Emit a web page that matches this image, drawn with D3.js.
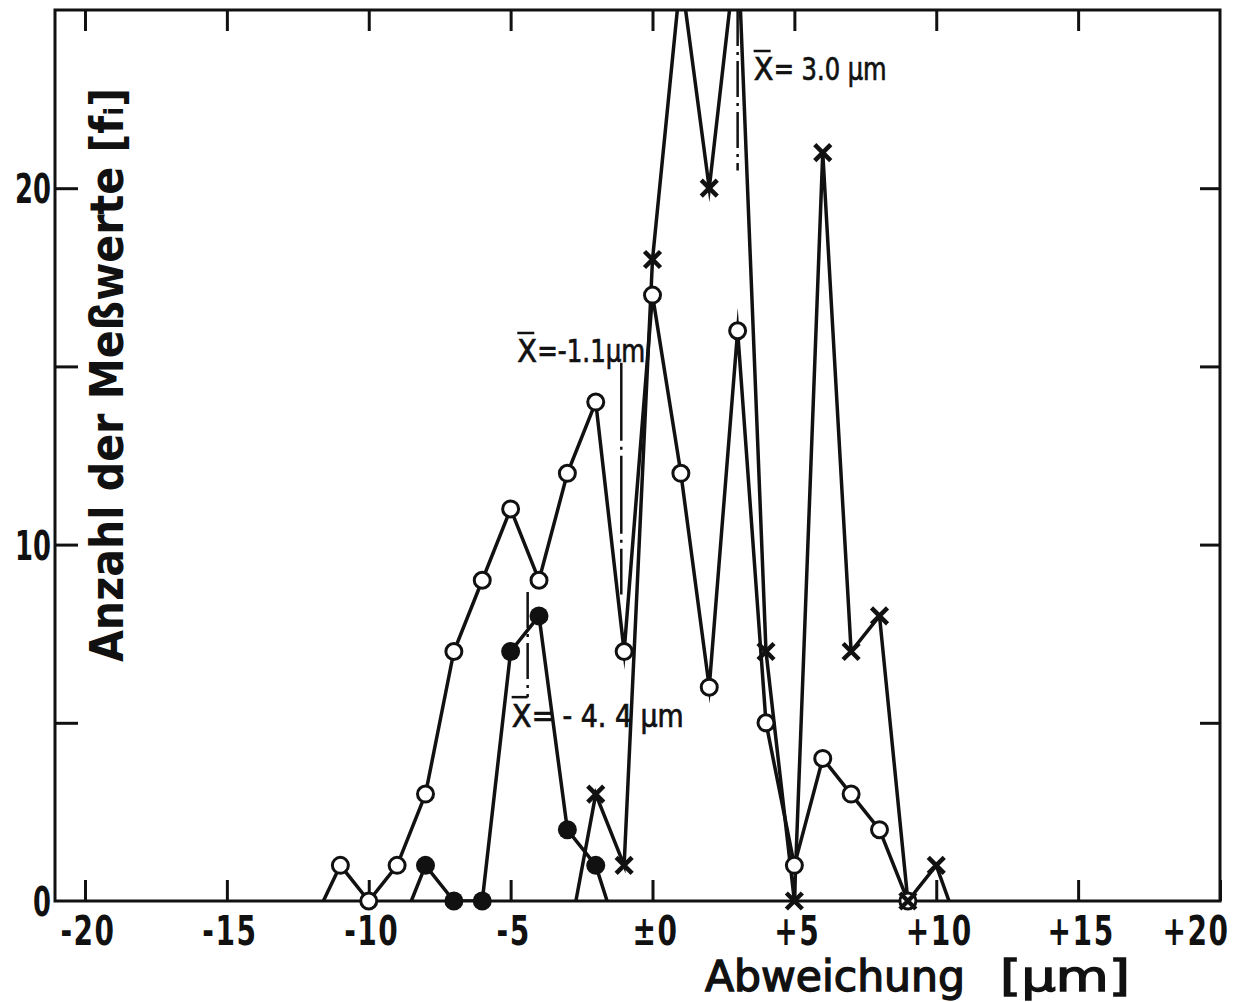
<!DOCTYPE html>
<html lang="de">
<head>
<meta charset="UTF-8">
<title>Abweichung - Anzahl der Meßwerte</title>
<script src="https://d3js.org/d3.v7.min.js"></script>
<style>
    body { margin: 0; padding: 0; background: #fff; }
    svg { display: block; }
    .tick-label {
        font-family: "DejaVu Sans Condensed", "DejaVu Sans", sans-serif;
        font-weight: bold;
        font-size: 41px;
        fill: #111;
    }
    .axis-title {
        font-family: "DejaVu Sans Condensed", "DejaVu Sans", sans-serif;
        font-weight: bold;
        fill: #111;
    }
    .x-title {
        font-family: "DejaVu Sans Condensed", "DejaVu Sans", sans-serif;
        font-size: 43px;
        fill: #111;
        stroke: #111;
        stroke-width: 1.3;
    }
    .mean-label {
        font-family: "DejaVu Sans Condensed", "DejaVu Sans", sans-serif;
        font-size: 32px;
        fill: #111;
        stroke: #111;
        stroke-width: 0.7;
    }
</style>
</head>
<body>
<svg id="chart"></svg>
<script>
    // values (class = deviation in µm, value = count)
    const openX = [-11, -10, -9, -8, -7, -6, -5, -4, -3, -2, -1, 0, 1, 2, 3, 4, 5, 6, 7, 8, 9];
    const openY = [1, 0, 1, 3, 7, 9, 11, 9, 12, 14, 7, 17, 12, 6, 16, 5, 1, 4, 3, 2, 0];
    const openEnds = [-11.6, null];

    const filledX = [-8, -7, -6, -5, -4, -3, -2];
    const filledY = [1, 0, 0, 7, 8, 2, 1];
    const filledEnds = [-8.5, -1.6];

    const crossX = [-2, -1, 0, 1, 2, 3, 4, 5, 6, 7, 8, 9, 10];
    const crossY = [3, 1, 18, 26, 20, 27, 7, 0, 21, 7, 8, 0, 1];
    const crossEnds = [-2.7, 10.45];

    const xTicks = [-20, -15, -10, -5, 0, 5, 10, 15, 20];
    const xTickLabels = ["-20", "-15", "-10", "-5", "±0", "+5", "+10", "+15", "+20"];
    const yTicks = [0, 5, 10, 15, 20, 25];
    const yTickLabels = ["0", "", "10", "", "20", ""];

    const meanValues = [3.0, -1.1, -4.4];
    const meanLabels = ["= 3.0 µm", "=-1.1µm", "= - 4. 4  µm"];
    const meanSpans = [[20.5, 25], [8.6, 15.1], [5.72, 8.67]];

    const width = 1235, height = 1002;
    const frame = { left: 55, top: 10, right: 1220, bottom: 901 };
    // the scan's lettering is a narrow DIN face
    const squeezeX = 0.76, squeezeY = 0.7;

    const svg = d3.select("#chart").attr("width", width).attr("height", height);

    const x = d3.scaleLinear().domain([-20, 20]).range([85, 1220]);
    const y = d3.scaleLinear().domain([0, 25]).range([frame.bottom, frame.top]);

    svg.append("defs").append("clipPath").attr("id", "plot-clip")
        .append("rect")
        .attr("x", frame.left).attr("y", frame.top)
        .attr("width", frame.right - frame.left).attr("height", frame.bottom - frame.top);

    // inward ticks on all four sides
    function ticksOnly(g) {
        g.select(".domain").remove();
        g.selectAll("text").remove();
        g.selectAll("line").attr("stroke", "#111").attr("stroke-width", 3);
    }
    svg.append("g").attr("transform", `translate(0,${frame.bottom})`)
        .call(d3.axisBottom(x).tickValues(xTicks).tickSize(-21)).call(ticksOnly);
    svg.append("g").attr("transform", `translate(0,${frame.top})`)
        .call(d3.axisTop(x).tickValues(xTicks.slice(0, -1)).tickSize(-21)).call(ticksOnly);
    svg.append("g").attr("transform", `translate(${frame.left},0)`)
        .call(d3.axisLeft(y).tickValues(yTicks.slice(1, -1)).tickSize(-23)).call(ticksOnly);
    svg.append("g").attr("transform", `translate(${frame.right},0)`)
        .call(d3.axisRight(y).tickValues(yTicks.slice(1, -1)).tickSize(-20)).call(ticksOnly);

    svg.append("rect")
        .attr("x", frame.left).attr("y", frame.top)
        .attr("width", frame.right - frame.left).attr("height", frame.bottom - frame.top)
        .attr("fill", "none").attr("stroke", "#111").attr("stroke-width", 3);

    // tick labels
    svg.append("g").selectAll("text")
        .data(xTicks)
        .join("text")
        .attr("class", "tick-label")
        .attr("transform", d => `translate(${Math.min(x(d) + 3, 1196)},945) scale(${squeezeX},1)`)
        .attr("text-anchor", "middle")
        .attr("letter-spacing", 2)
        .text((d, i) => xTickLabels[i]);

    svg.append("g").selectAll("text")
        .data(yTicks.filter((d, i) => yTickLabels[i] !== ""))
        .join("text")
        .attr("class", "tick-label")
        .attr("transform", d => `translate(51,${y(d) + 15}) scale(${squeezeY},1)`)
        .attr("text-anchor", "end")
        .text(d => yTickLabels[yTicks.indexOf(d)]);

    // axis titles
    svg.append("text")
        .attr("class", "axis-title")
        .attr("font-size", 46)
        .attr("transform", "translate(123,662) rotate(-90)")
        .attr("textLength", 574)
        .attr("lengthAdjust", "spacingAndGlyphs")
        .text("Anzahl der Meßwerte [fᵢ]");

    svg.append("text")
        .attr("class", "x-title")
        .attr("x", 705).attr("y", 991)
        .attr("textLength", 260)
        .attr("lengthAdjust", "spacingAndGlyphs")
        .text("Abweichung");
    svg.append("text")
        .attr("class", "x-title")
        .attr("x", 1000).attr("y", 991)
        .attr("textLength", 130)
        .attr("lengthAdjust", "spacingAndGlyphs")
        .text("[µm]");

    // mean markers (dash-dot verticals)
    const meanG = svg.append("g");
    meanValues.forEach((m, i) => {
        meanG.append("line")
            .attr("x1", x(m)).attr("x2", x(m))
            .attr("y1", y(meanSpans[i][1])).attr("y2", y(meanSpans[i][0]))
            .attr("stroke", "#111").attr("stroke-width", 2.5)
            .attr("stroke-dasharray", i === 1 ? "78,6,3,6" : "36,6,3,6");
    });

    function meanLabel(xStart, yBase, idx, len) {
        meanG.append("text")
            .attr("class", "mean-label")
            .attr("x", xStart).attr("y", yBase)
            .text("X");
        meanG.append("line")
            .attr("x1", xStart).attr("x2", xStart + 17)
            .attr("y1", yBase - 29).attr("y2", yBase - 29)
            .attr("stroke", "#111").attr("stroke-width", 2.5);
        meanG.append("text")
            .attr("class", "mean-label")
            .attr("x", xStart + 20).attr("y", yBase)
            .attr("textLength", len)
            .attr("lengthAdjust", "spacingAndGlyphs")
            .text(meanLabels[idx]);
    }
    meanLabel(x(meanValues[0]) + 16, 80, 0, 113);
    meanLabel(x(meanValues[1]) - 104, 362, 1, 108);
    // -4.4: the overline joins the vertical mean line (L shape)
    meanG.append("line")
        .attr("x1", x(meanValues[2]) - 16).attr("x2", x(meanValues[2]))
        .attr("y1", y(meanSpans[2][0])).attr("y2", y(meanSpans[2][0]))
        .attr("stroke", "#111").attr("stroke-width", 2.5);
    meanG.append("text")
        .attr("class", "mean-label")
        .attr("x", x(meanValues[2]) - 16).attr("y", 727)
        .text("X");
    meanG.append("text")
        .attr("class", "mean-label")
        .attr("x", x(meanValues[2]) + 4).attr("y", 727)
        .attr("textLength", 152)
        .attr("lengthAdjust", "spacingAndGlyphs")
        .text(meanLabels[2]);

    // series
    function seriesPoints(xs, ys, ends) {
        const pts = xs.map((v, i) => [v, ys[i]]);
        if (ends[0] !== null) pts.unshift([ends[0], 0]);
        if (ends[1] !== null) pts.push([ends[1], 0]);
        return pts;
    }
    const line = d3.line().x(d => x(d[0])).y(d => y(d[1]));
    const lines = svg.append("g").attr("clip-path", "url(#plot-clip)");
    [[openX, openY, openEnds], [filledX, filledY, filledEnds], [crossX, crossY, crossEnds]]
        .forEach(([xs, ys, ends]) => {
            lines.append("path")
                .attr("d", line(seriesPoints(xs, ys, ends)))
                .attr("fill", "none")
                .attr("stroke", "#111")
                .attr("stroke-width", 3.5)
                .attr("stroke-linejoin", "miter")
                .attr("stroke-miterlimit", 20);
        });

    // markers
    const crossG = svg.append("g");
    crossG.selectAll("path")
        .data(crossX.map((v, i) => [v, crossY[i]]).filter(d => d[1] <= 25))
        .join("path")
        .attr("transform", d => `translate(${x(d[0])},${y(d[1])})`)
        .attr("d", "M-8,-8L8,8M-8,8L8,-8")
        .attr("stroke", "#111").attr("stroke-width", 4.5).attr("fill", "none");

    svg.append("g").selectAll("circle")
        .data(openX.map((v, i) => [v, openY[i]]))
        .join("circle")
        .attr("cx", d => x(d[0])).attr("cy", d => y(d[1]))
        .attr("r", 8)
        .attr("fill", "#fff").attr("stroke", "#111").attr("stroke-width", 3);

    svg.append("g").selectAll("circle")
        .data(filledX.map((v, i) => [v, filledY[i]]))
        .join("circle")
        .attr("cx", d => x(d[0])).attr("cy", d => y(d[1]))
        .attr("r", 9.5)
        .attr("fill", "#111");

    // crosses sitting on top of the open circles at zero stay visible
    crossG.raise();
</script>
</body>
</html>
